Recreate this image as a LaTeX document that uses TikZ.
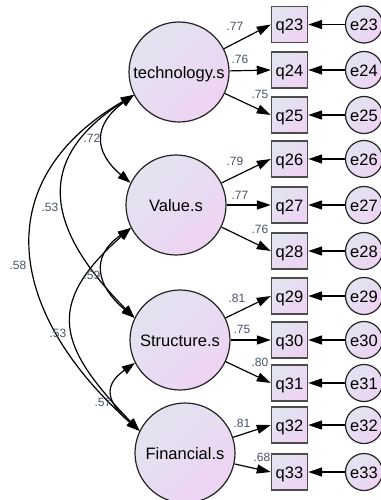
\documentclass[tikz,border=0pt]{standalone}
\usepackage{fontspec}
\setmainfont{Liberation Sans}
\usetikzlibrary{arrows.meta}
\definecolor{fillA}{RGB}{226,228,240}
\definecolor{fillB}{RGB}{238,211,243}
\definecolor{numcol}{RGB}{70,80,105}
\definecolor{edgecol}{RGB}{35,35,35}
\begin{document}
\begin{tikzpicture}[x=1pt,y=-1pt,
  tip/.style={line width=1.2pt,-{Triangle[length=14pt,width=9pt]}},
  dtip/.style={line width=1.2pt,{Triangle[length=13pt,width=9pt]}-{Triangle[length=13pt,width=9pt]}},
  shadefill/.style={top color=fillA,bottom color=fillB,shading angle=45},
  latent/.style={circle,draw=edgecol,line width=1.2pt,shadefill,minimum size=100pt,inner sep=0pt,
    font=\fontsize{16.5}{18}\selectfont,text height=14pt,text depth=1.5pt},
  obs/.style={rectangle,draw=black!70,line width=1.4pt,shadefill,minimum width=36pt,minimum height=36pt,inner sep=0pt,
    font=\fontsize{16.5}{18}\selectfont,text height=14pt,text depth=1.5pt},
  err/.style={circle,draw=edgecol,line width=1.2pt,shadefill,minimum size=37pt,inner sep=0pt,
    font=\fontsize{16.5}{18}\selectfont,text height=14pt,text depth=1.5pt},
  num/.style={font=\fontsize{12}{14}\selectfont,text=numcol,inner sep=0pt}
]
\useasboundingbox (0,0) rectangle (380,500);

% latent variables
\node[latent] (tech) at (179,72) {technology.s};
\node[latent] (val) at (176,205) {Value.s};
\node[latent] (str) at (180,340) {Structure.s};
\node[latent] (fin) at (185,453) {Financial.s};

% observed variables and errors
\foreach \n/\y in {23/24.5,24/70,25/115,26/159,27/205,28/251,29/296,30/340,31/383,32/425,33/472}{
  \node[obs] (q\n) at (289.5,\y) {q\n};
  \node[err] (e\n) at (364,\y) {e\n};
  \draw[tip] (e\n) -- (q\n);
}

% loadings
\draw[tip] (tech) -- (q23.west);
\draw[tip] (tech) -- (q24.west);
\draw[tip] (tech) -- (q25.west);
\draw[tip] (val) -- (q26.west);
\draw[tip] (val) -- (q27.west);
\draw[tip] (val) -- (q28.west);
\draw[tip] (str) -- (q29.west);
\draw[tip] (str) -- (q30.west);
\draw[tip] (str) -- (q31.west);
\draw[tip] (fin) -- (q32.west);
\draw[tip] (fin) -- (q33.west);

\node[num] (l23) at (235,26) {.77};
\node[num] (l24) at (240,59) {.76};
\node[num] (l25) at (260,94) {.75};
\node[num] (l26) at (235,161) {.79};
\node[num] (l27) at (240,195) {.77};
\node[num] (l28) at (260,229) {.76};
\node[num] (l29) at (237,298) {.81};
\node[num] (l30) at (242,329) {.75};
\node[num] (l31) at (260,362) {.80};
\node[num] (l32) at (242,423) {.81};
\node[num] (l33) at (262,457) {.68};

% correlations
\draw[dtip] (tech.207) .. controls (93.4,124.2) and (92.9,151.3) .. (val.154);
\draw[dtip] (tech.207) .. controls (29.5,161) and (49,232) .. (str.154);
\draw[dtip] (tech.207) .. controls (-16.5,182.5) and (10,316) .. (fin.154);
\draw[dtip] (val.207) .. controls (89.8,256.7) and (96.3,285.8) .. (str.154);
\draw[dtip] (val.207) .. controls (43.5,305) and (58.3,347) .. (fin.154);
\draw[dtip] (str.207) .. controls (101.4,386.3) and (108.1,403.5) .. (fin.154);

\node[num] (c1) at (92,138) {.72};
\node[num] (c2) at (50,207) {.53};
\node[num] (c3) at (18,265) {.58};
\node[num] (c4) at (92,275) {.59};
\node[num] (c5) at (58,333) {.53};
\node[num] (c6) at (103,402) {.57};
\end{tikzpicture}
\end{document}
